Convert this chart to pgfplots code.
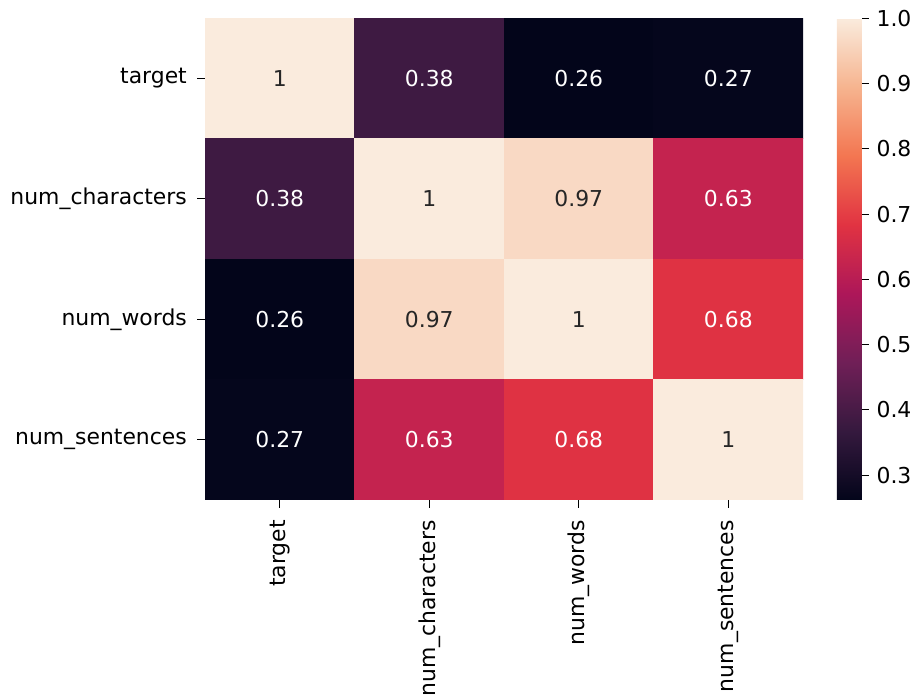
\documentclass[border=0pt]{standalone}
\usepackage{pgfplots}
\pgfplotsset{compat=1.18}
\usepackage{fontspec}
\setmainfont{DejaVu Sans}
\pgfplotsset{colormap={rocket}{rgb255=(3,5,26) rgb255=(53,25,62) rgb255=(112,31,87) rgb255=(173,23,89) rgb255=(225,51,66) rgb255=(243,118,81) rgb255=(246,180,143) rgb255=(250,235,221)}}
\definecolor{annodark}{RGB}{38,38,38}
\begin{document}
\begin{tikzpicture}
\begin{axis}[name=ax, scale only axis, width=273.1pt, height=220pt,
  xmin=-0.5, xmax=3.5, ymin=-0.5, ymax=3.5, y dir=reverse,
  axis line style={draw=none},
  xtick={0,1,2,3}, ytick={0,1,2,3},
  xticklabels={target,num\_characters,num\_words,num\_sentences},
  yticklabels={target,num\_characters,num\_words,num\_sentences},
  xtick pos=bottom, ytick pos=left, tick align=outside,
  major tick length=3.6pt,
  tick style={black, line width=0.45pt},
  x tick label style={rotate=90, anchor=east, inner sep=5.5pt},
  y tick label style={inner sep=4.5pt},
  tick label style={font=\fontsize{10}{12}\selectfont},
  /pgf/number format/assume math mode=true,
  colormap name=rocket, colorbar,
  point meta min=0.262, point meta max=1.0,
  colorbar style={width=11.4pt, at={(parent axis.north east)}, anchor=north west, xshift=6.9pt,
    axis line style={draw=none},
    ytick={0.3,0.4,0.5,0.6,0.7,0.8,0.9,1.0},
    ytick pos=right, yticklabel pos=right, tick align=outside,
    major tick length=3.2pt,
    tick style={black, line width=0.45pt},
    yticklabel style={font=\fontsize{10}{12}\selectfont, /pgf/number format/.cd, fixed, fixed zerofill, precision=1, assume math mode=true}},
]
\addplot[matrix plot*, mesh/cols=4, point meta=explicit] table[meta=C] {
x y C
0 0 1
1 0 0.384
2 0 0.262
3 0 0.267
0 1 0.384
1 1 1
2 1 0.966
3 1 0.625
0 2 0.262
1 2 0.966
2 2 1
3 2 0.680
0 3 0.267
1 3 0.625
2 3 0.680
3 3 1
};
\addplot[only marks, mark=none, point meta=explicit, nodes near coords,
  nodes near coords style={anchor=center, text=white, font=\fontsize{10}{12}\selectfont, /pgf/number format/.cd, fixed, precision=2, assume math mode=true}] table[meta=C] {
x y C
1 0 0.38
2 0 0.26
3 0 0.27
0 1 0.38
3 1 0.63
0 2 0.26
3 2 0.68
0 3 0.27
1 3 0.63
2 3 0.68
};
\addplot[only marks, mark=none, point meta=explicit, nodes near coords,
  nodes near coords style={anchor=center, text=annodark, font=\fontsize{10}{12}\selectfont, /pgf/number format/.cd, fixed, precision=2, assume math mode=true}] table[meta=C] {
x y C
0 0 1
1 1 1
2 1 0.97
1 2 0.97
2 2 1
3 3 1
};
\end{axis}
\pgfresetboundingbox
\path[use as bounding box] (ax.south west) ++(-93.6pt,-90.4pt) rectangle ++(417.8pt,318.7pt);
\end{tikzpicture}
\end{document}
